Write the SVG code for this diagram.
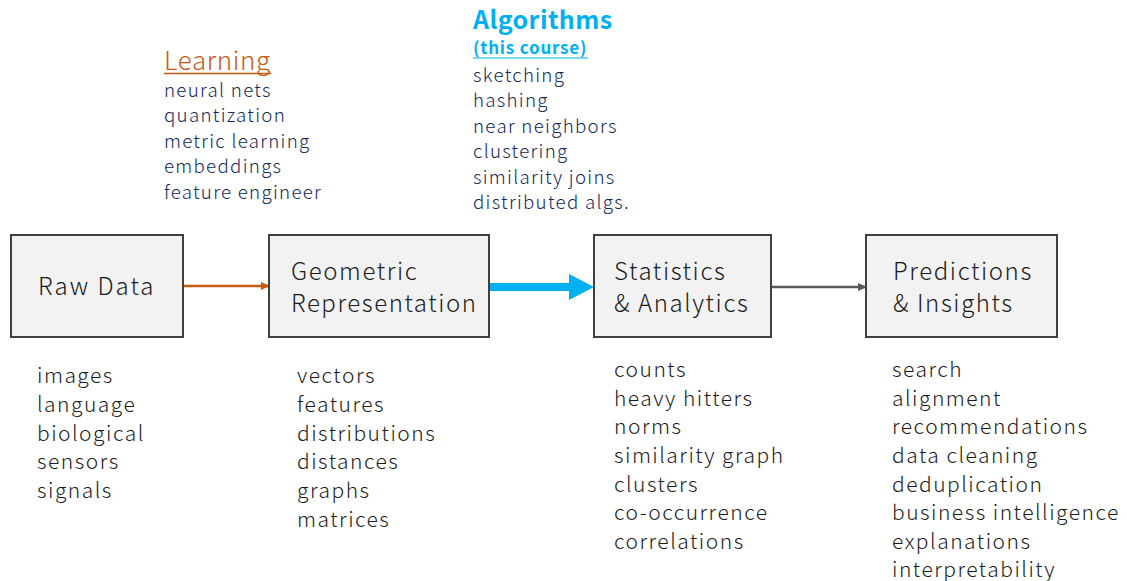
<svg xmlns="http://www.w3.org/2000/svg" width="1127" height="581" viewBox="0 0 1127 581">
<style>
text{font-family:"Noto Sans CJK JP","Noto Sans",sans-serif;}
.box{fill:#f2f2f2;stroke:#404040;stroke-width:2;}
.lbl{font-size:24px;fill:#1a1a1a;font-weight:300;letter-spacing:1.6px;}
.lst{font-size:21px;fill:#1a1a1a;font-weight:300;letter-spacing:1.5px;}
.top{font-size:18.7px;fill:#14295a;font-weight:300;letter-spacing:1.3px;}
</style>
<defs>
<marker id="ao" markerWidth="10" markerHeight="10" refX="8" refY="4" orient="auto" markerUnits="userSpaceOnUse"><path d="M0,0 L9,4 L0,8 Z" fill="#c55a11"/></marker>
<marker id="ag" markerWidth="10" markerHeight="10" refX="8" refY="4" orient="auto" markerUnits="userSpaceOnUse"><path d="M0,0 L9,4 L0,8 Z" fill="#595959"/></marker>
</defs>
<g id="connectors">
<line x1="184" y1="286" x2="269" y2="286" stroke="#c55a11" stroke-width="2.5" marker-end="url(#ao)"/>
<line x1="490" y1="287" x2="572" y2="287" stroke="#00b0f0" stroke-width="8"/>
<path d="M569,274 L594,287 L569,300 Z" fill="#00b0f0"/>
<line x1="772" y1="287" x2="866" y2="287" stroke="#595959" stroke-width="2.5" marker-end="url(#ag)"/>
</g>
<g id="raw">
<rect class="box" x="11" y="235" width="172" height="102"/>
<text class="lbl" x="38" y="295" style="letter-spacing:2px">Raw Data</text>
</g>
<g id="geo">
<rect class="box" x="269" y="235" width="220" height="102"/>
<text class="lbl" x="291" y="280">Geometric</text>
<text class="lbl" x="291" y="312" style="letter-spacing:1.55px">Representation</text>
</g>
<g id="stats">
<rect class="box" x="594" y="235" width="177" height="102"/>
<text class="lbl" x="614" y="280">Statistics</text>
<text class="lbl" x="614" y="312">&amp; Analytics</text>
</g>
<g id="pred">
<rect class="box" x="866" y="235" width="191" height="102"/>
<text class="lbl" x="893" y="280">Predictions</text>
<text class="lbl" x="893" y="312">&amp; Insights</text>
</g>
<g id="raw-list">
<text class="lst" x="37" y="383">images</text>
<text class="lst" x="37" y="412">language</text>
<text class="lst" x="37" y="441">biological</text>
<text class="lst" x="37" y="469">sensors</text>
<text class="lst" x="37" y="498">signals</text>
</g>
<g id="geo-list">
<text class="lst" x="297" y="383">vectors</text>
<text class="lst" x="297" y="412">features</text>
<text class="lst" x="297" y="441">distributions</text>
<text class="lst" x="297" y="469">distances</text>
<text class="lst" x="297" y="498">graphs</text>
<text class="lst" x="297" y="527">matrices</text>
</g>
<g id="stats-list">
<text class="lst" x="614" y="377">counts</text>
<text class="lst" x="614" y="406">heavy hitters</text>
<text class="lst" x="614" y="434">norms</text>
<text class="lst" x="614" y="463">similarity graph</text>
<text class="lst" x="614" y="492">clusters</text>
<text class="lst" x="614" y="520">co-occurrence</text>
<text class="lst" x="614" y="549">correlations</text>
</g>
<g id="pred-list">
<text class="lst" x="892" y="377">search</text>
<text class="lst" x="892" y="406">alignment</text>
<text class="lst" x="892" y="434">recommendations</text>
<text class="lst" x="892" y="463">data cleaning</text>
<text class="lst" x="892" y="492">deduplication</text>
<text class="lst" x="892" y="520">business intelligence</text>
<text class="lst" x="892" y="549">explanations</text>
<text class="lst" x="892" y="577">interpretability</text>
</g>
<g id="learning">
<text x="164" y="70" font-size="26" fill="#c55a11" font-weight="300" letter-spacing="0.6">Learning</text>
<line x1="164" y1="73.5" x2="271" y2="73.5" stroke="#c55a11" stroke-width="1.5"/>
<text class="top" x="164" y="97">neural nets</text>
<text class="top" x="164" y="122">quantization</text>
<text class="top" x="164" y="148">metric learning</text>
<text class="top" x="164" y="173">embeddings</text>
<text class="top" x="164" y="199">feature engineer</text>
</g>
<g id="algorithms">
<text x="473" y="28.5" font-size="25" fill="#00b0f0" font-weight="bold" letter-spacing="0.4">Algorithms</text>
<text x="473" y="54" font-size="17" fill="#00b0f0" font-weight="bold" letter-spacing="0.8">(this course)</text>
<line x1="473" y1="58" x2="588" y2="58" stroke="#00b0f0" stroke-width="1.2"/>
<text class="top" x="473" y="82">sketching</text>
<text class="top" x="473" y="107">hashing</text>
<text class="top" x="473" y="133">near neighbors</text>
<text class="top" x="473" y="158">clustering</text>
<text class="top" x="473" y="184">similarity joins</text>
<text class="top" x="473" y="209">distributed algs.</text>
</g>
</svg>
